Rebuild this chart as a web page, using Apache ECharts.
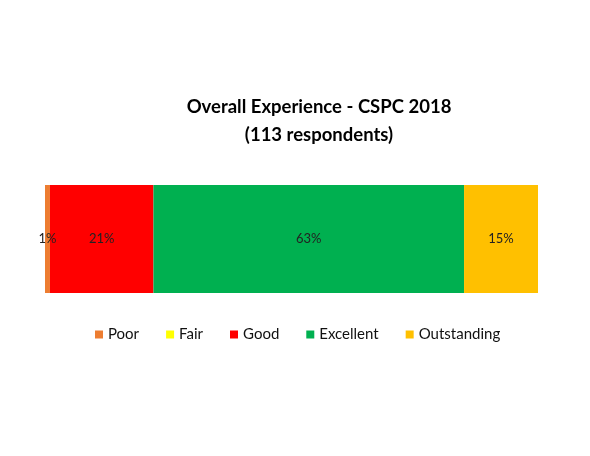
<!DOCTYPE html>
<html>
<head>
<meta charset="utf-8">
<script src="https://cdn.jsdelivr.net/npm/echarts@6/dist/echarts.min.js"></script>
<style>
  html, body { margin: 0; padding: 0; background: #fff; }
  #chart { width: 590px; height: 456px; }
</style>
</head>
<body>
<div id="chart"></div>
<script>
const categories = ['Overall']
const seriesNames = ['Poor', 'Fair', 'Good', 'Excellent', 'Outstanding']
const seriesValues = [1, 0, 21, 63, 15]
const seriesColors = ['#ED7D31', '#FFFF00', '#FF0000', '#00B050', '#FFC000']

const myChart = echarts.init(document.getElementById('chart'))

const series = seriesNames.map((name, i) => {
    return {
        name,
        type: 'bar',
        stack: 'total',
        barWidth: 108,
        itemStyle: {color: seriesColors[i]},
        label: {
            show: true,
            position: 'inside',
            color: '#222',
            fontSize: 13,
            fontFamily: 'Lato',
            // no label for empty segments (Fair = 0)
            formatter: p => p.value ? p.value + '%' : ''
        },
        data: [seriesValues[i]]
    }
})

const option = {
    animation: false,
    title: {
        text: 'Overall Experience - CSPC 2018\n(113 respondents)',
        left: 314,
        textAlign: 'center',
        top: 88,
        textStyle: {
            fontFamily: 'Lato',
            fontWeight: 'bold',
            fontSize: 18.5,
            lineHeight: 28,
            color: '#000'
        }
    },
    grid: {left: 45, right: 52, top: 185, height: 108},
    legend: {
        data: seriesNames,
        top: 322,
        left: 90,
        icon: 'rect',
        itemWidth: 8,
        itemHeight: 8,
        itemGap: 27,
        textStyle: {fontFamily: 'Lato', fontSize: 15, color: '#111'}
    },
    xAxis: {type: 'value', min: 0, max: 100, show: false},
    yAxis: {type: 'category', data: categories, show: false},
    series
}

myChart.setOption(option)
</script>
</body>
</html>
